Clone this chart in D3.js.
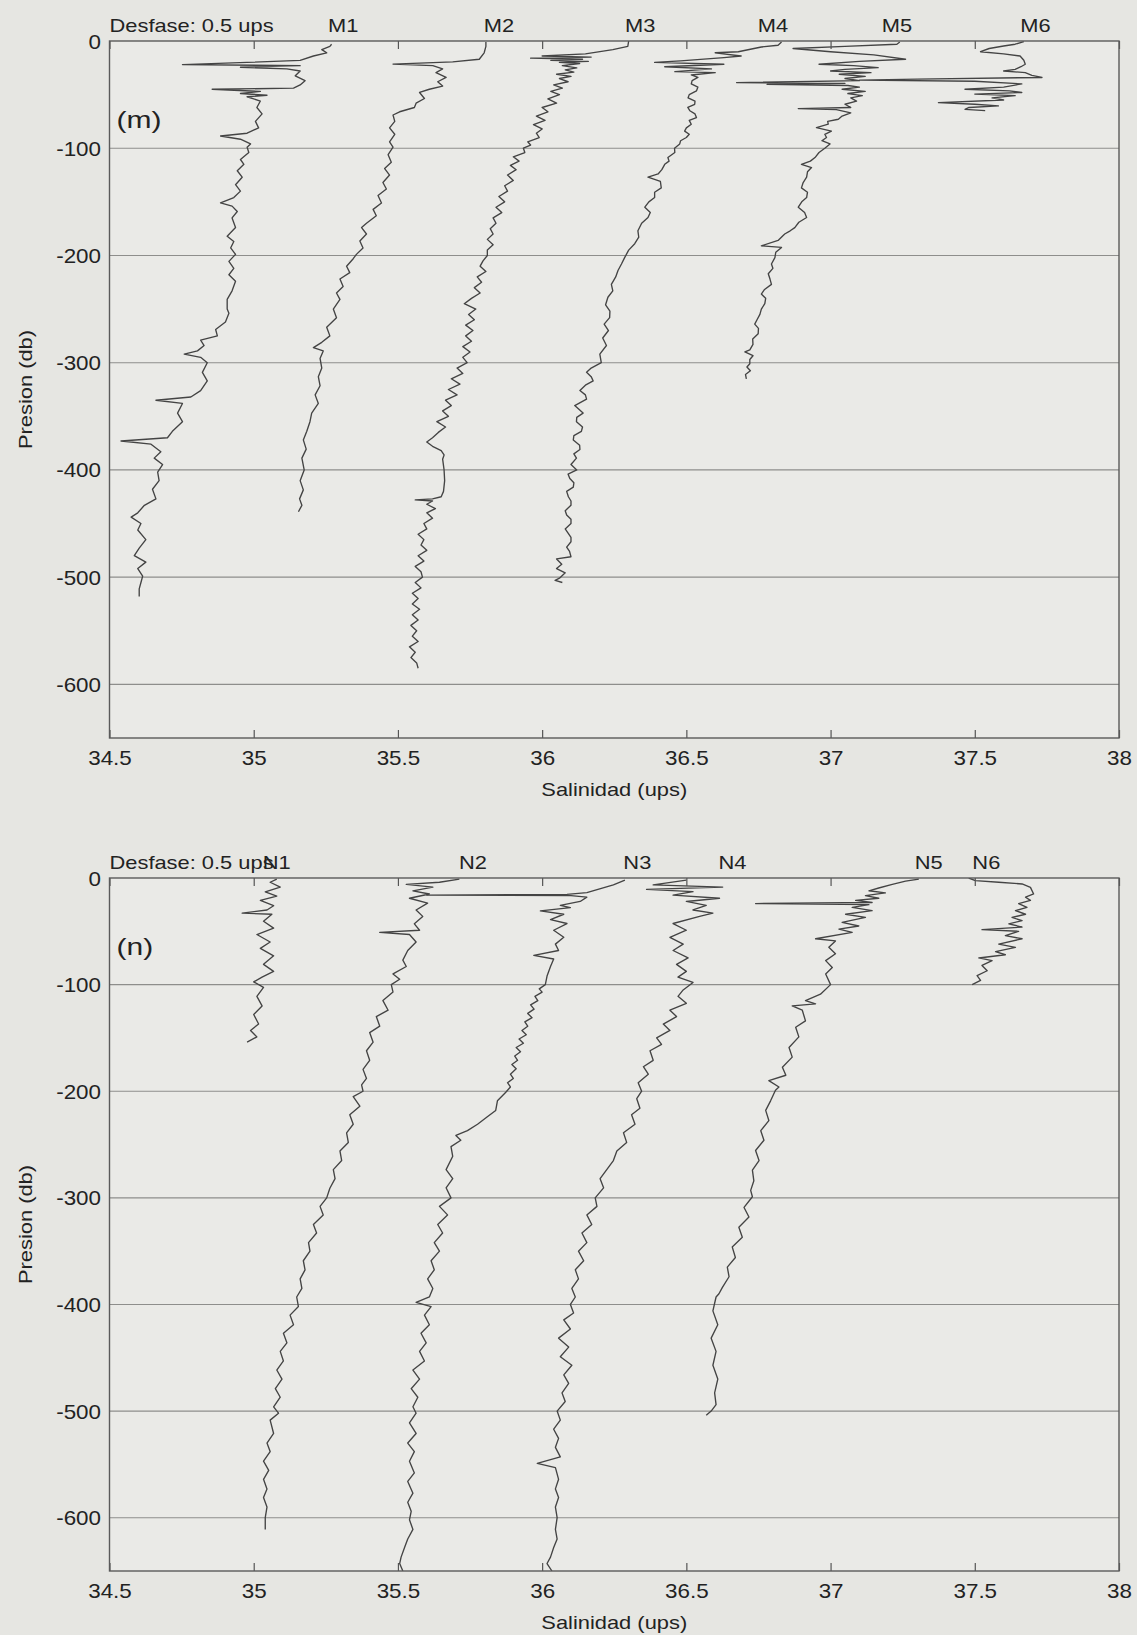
<!DOCTYPE html>
<html>
<head>
<meta charset="utf-8">
<script src="https://cdn.jsdelivr.net/npm/d3@7"></script>
<style>
  body { margin: 0; background: #e6e6e2; }
  svg { display: block; }
  text { font-family: "Liberation Sans", Arial, sans-serif; fill: #222; }
</style>
</head>
<body>
<svg id="chart"></svg>
<script>
// axis values
const xTicks = [34.5, 35, 35.5, 36, 36.5, 37, 37.5, 38];
const yTicks = [0, -100, -200, -300, -400, -500, -600];
const yGrid = [-100, -200, -300, -400, -500, -600];
const offsetNote = "Desfase: 0.5 ups";

// profile names and where each name sits (salinidad)
const mNames = ["M1", "M2", "M3", "M4", "M5", "M6"];
const mLabelAt = [35.31, 35.85, 36.34, 36.80, 37.23, 37.71];
const nNames = ["N1", "N2", "N3", "N4", "N5", "N6"];
const nLabelAt = [35.08, 35.76, 36.33, 36.66, 37.34, 37.54];

// profiles: [presion, salinidad]
const M1 = [[-3,35.27],[-5,35.264],[-8,35.236],[-11,35.253],[-14,35.207],[-18,35.161],[-20,34.977],[-22,34.753],[-23,35.161],[-24.5,34.954],[-26,35.115],[-28,35.161],[-32.5,35.144],[-37,35.178],[-41,35.161],[-44,35.138],[-45,34.856],[-47,35.023],[-49,34.954],[-50.6,35.046],[-52,34.977],[-56,35.023],[-62,35.011],[-68,35.029],[-75,35.006],[-81,35.017],[-86,34.977],[-88.6,34.885],[-91.6,34.954],[-96,34.989],[-99,34.977],[-104,34.983],[-110.5,34.954],[-115,34.966],[-121,34.943],[-127,34.96],[-134,34.937],[-140,34.954],[-146,34.931],[-151,34.885],[-154,34.925],[-159,34.943],[-165,34.925],[-174,34.937],[-182,34.908],[-187,34.931],[-193,34.92],[-199,34.937],[-205.5,34.914],[-212,34.931],[-218,34.914],[-224,34.937],[-233,34.925],[-241,34.908],[-250,34.908],[-254,34.914],[-262,34.902],[-269,34.868],[-275,34.874],[-279,34.816],[-284,34.828],[-289,34.805],[-292,34.759],[-295,34.816],[-300,34.839],[-309,34.822],[-317,34.839],[-326,34.816],[-332,34.782],[-335,34.661],[-338,34.753],[-347,34.736],[-355,34.753],[-364,34.718],[-370,34.701],[-373,34.54],[-376,34.644],[-383,34.678],[-389,34.655],[-395,34.684],[-402,34.667],[-410,34.672],[-418,34.649],[-427,34.661],[-433,34.621],[-440,34.598],[-444,34.575],[-450,34.609],[-456,34.598],[-465,34.626],[-473,34.603],[-480,34.586],[-486,34.626],[-492,34.598],[-499,34.615],[-505,34.609],[-511,34.603],[-518,34.603]];
const M2 = [[-1,35.805],[-5,35.805],[-11,35.799],[-17,35.782],[-19.4,35.69],[-21.5,35.483],[-23,35.621],[-26,35.655],[-29.5,35.632],[-34,35.667],[-38,35.638],[-42,35.655],[-45,35.609],[-48,35.575],[-53.6,35.592],[-58,35.563],[-62,35.557],[-66,35.506],[-69,35.483],[-75,35.489],[-81,35.471],[-87,35.489],[-94,35.471],[-99,35.483],[-106,35.466],[-113,35.477],[-119,35.454],[-125,35.471],[-132,35.448],[-138,35.46],[-144,35.431],[-151,35.443],[-157,35.414],[-163,35.425],[-170,35.391],[-174,35.374],[-180,35.391],[-186.5,35.368],[-193,35.379],[-199,35.356],[-203,35.345],[-210,35.322],[-216,35.333],[-222,35.299],[-229,35.31],[-235,35.287],[-241,35.299],[-250,35.276],[-258,35.287],[-267,35.253],[-275,35.264],[-281,35.236],[-286,35.207],[-289,35.241],[-296,35.23],[-305,35.236],[-313,35.224],[-321.5,35.23],[-330,35.213],[-338,35.224],[-347,35.201],[-355,35.195],[-364,35.184],[-372,35.172],[-380.6,35.182],[-389,35.167],[-400,35.175],[-410,35.161],[-418.6,35.172],[-427,35.159],[-433,35.167],[-439,35.155]];
const M3 = [[0,36.30],[-5,36.297],[-8,36.245],[-12,36.15],[-14,36.0],[-15,36.17],[-16,35.96],[-17,36.14],[-18,36.03],[-19,36.16],[-20,36.06],[-21,36.13],[-23,36.07],[-25,36.12],[-27,36.08],[-29,36.11],[-31,36.05],[-33,36.1],[-35,36.06],[-38,36.09],[-41,36.04],[-44,36.07],[-47,36.03],[-50,36.06],[-54,36.02],[-58,36.05],[-62,36.0],[-66,36.02],[-70,35.98],[-74,36.01],[-78,35.97],[-82,36.0],[-86,35.98],[-90,35.99],[-94,35.95],[-97,35.96],[-100,35.935],[-104,35.94],[-108,35.9],[-112,35.92],[-116,35.89],[-120,35.91],[-125,35.88],[-130,35.9],[-135,35.87],[-140,35.88],[-145,35.85],[-150,35.87],[-155,35.84],[-160,35.86],[-165,35.83],[-170,35.84],[-175,35.82],[-180,35.83],[-185,35.81],[-190,35.83],[-195,35.81],[-200,35.81],[-205,35.795],[-210,35.785],[-215,35.805],[-220,35.775],[-225,35.79],[-230,35.765],[-235,35.785],[-240,35.755],[-245,35.73],[-250,35.77],[-255,35.745],[-260,35.765],[-265,35.735],[-270,35.76],[-275,35.735],[-280,35.755],[-285,35.725],[-290,35.75],[-295,35.725],[-300,35.74],[-305,35.705],[-310,35.725],[-315,35.685],[-320,35.715],[-325,35.675],[-330,35.705],[-335,35.665],[-340,35.685],[-345,35.655],[-350,35.675],[-355,35.635],[-360,35.665],[-365,35.64],[-370,35.62],[-374,35.6],[-378,35.62],[-382,35.65],[-386,35.66],[-390,35.655],[-400,35.66],[-410,35.662],[-420,35.658],[-425,35.65],[-427,35.62],[-428,35.56],[-429,35.62],[-432,35.6],[-436,35.63],[-440,35.6],[-445,35.62],[-450,35.59],[-455,35.6],[-460,35.57],[-465,35.59],[-470,35.58],[-475,35.6],[-480,35.57],[-485,35.59],[-490,35.56],[-495,35.58],[-500,35.585],[-505,35.56],[-510,35.58],[-515,35.55],[-520,35.57],[-525,35.55],[-530,35.575],[-535,35.55],[-540,35.57],[-545,35.545],[-550,35.565],[-555,35.55],[-560,35.57],[-565,35.54],[-570,35.56],[-575,35.545],[-580,35.565],[-585,35.57]];
const M4 = [[-1,36.83],[-4,36.818],[-5.6,36.76],[-10,36.68],[-11,36.6],[-14,36.69],[-15.5,36.63],[-18.6,36.48],[-20,36.39],[-21.7,36.63],[-24,36.425],[-26,36.587],[-28.6,36.46],[-29.5,36.6],[-31.7,36.517],[-34,36.54],[-37,36.52],[-40,36.517],[-43,36.54],[-46.6,36.535],[-50,36.51],[-53,36.506],[-56,36.53],[-59,36.529],[-62,36.505],[-65,36.512],[-68,36.53],[-71.4,36.535],[-74,36.51],[-77.6,36.517],[-81,36.5],[-84,36.494],[-87,36.51],[-90,36.5],[-93,36.48],[-96,36.477],[-100,36.459],[-104,36.46],[-108.7,36.436],[-112,36.44],[-115,36.425],[-120,36.415],[-124,36.402],[-127,36.367],[-131,36.41],[-137,36.413],[-141,36.39],[-146,36.39],[-150,36.37],[-155,36.356],[-160,36.375],[-164.6,36.367],[-170,36.345],[-177,36.332],[-183,36.335],[-189,36.321],[-195,36.3],[-202,36.286],[-208,36.275],[-214,36.263],[-220,36.255],[-227,36.24],[-233,36.245],[-239,36.228],[-246,36.22],[-252,36.235],[-258,36.234],[-264,36.215],[-270,36.23],[-277,36.21],[-284,36.223],[-292,36.2],[-300,36.205],[-305,36.17],[-309,36.154],[-313,36.17],[-317,36.177],[-321,36.15],[-326,36.131],[-330,36.15],[-334,36.154],[-340,36.113],[-347,36.142],[-351,36.12],[-355,36.119],[-360,36.14],[-364,36.136],[-368,36.11],[-372,36.108],[-377,36.13],[-381,36.131],[-385,36.11],[-389,36.119],[-395,36.1],[-400,36.12],[-404,36.09],[-408,36.096],[-412,36.11],[-416,36.108],[-420,36.085],[-425,36.091],[-429,36.1],[-433,36.1],[-438,36.08],[-442,36.085],[-446,36.1],[-450,36.1],[-455,36.08],[-459,36.09],[-463,36.1],[-467,36.1],[-472,36.085],[-476,36.095],[-481,36.1],[-483,36.05],[-488,36.068],[-492,36.05],[-496,36.08],[-501,36.06],[-503,36.045],[-505,36.07]];
const M5 = [[-1,37.24],[-3,37.23],[-5,37.05],[-7,36.87],[-10,37.0],[-13,37.15],[-17,37.26],[-19,37.1],[-21.7,36.96],[-23,37.08],[-24.8,37.165],[-26.5,37.05],[-28,37.0],[-29.5,37.14],[-31,37.03],[-33,37.12],[-35,37.05],[-37,37.1],[-38.8,36.674],[-39.5,37.05],[-40.5,36.78],[-41.5,37.06],[-43,37.1],[-45,37.04],[-47,37.12],[-49,37.06],[-51,37.11],[-53,37.07],[-56,37.09],[-59,37.05],[-62,37.07],[-63,36.888],[-64,37.02],[-67,37.07],[-70,37.04],[-73,37.027],[-75,36.99],[-77.6,36.992],[-80.7,36.951],[-84,37.003],[-87,36.98],[-90,36.986],[-93,36.97],[-96,36.998],[-100,36.98],[-104,36.96],[-108.7,36.946],[-112,36.93],[-115,36.899],[-118,36.934],[-122,36.92],[-127,36.917],[-132,36.905],[-137,36.899],[-141,36.92],[-146,36.917],[-150,36.9],[-155,36.888],[-160,36.91],[-164.6,36.917],[-169,36.89],[-174,36.876],[-177,36.86],[-180,36.841],[-186,36.818],[-191,36.76],[-192.5,36.83],[-197,36.81],[-202,36.807],[-208,36.795],[-212,36.8],[-217,36.784],[-222,36.79],[-227,36.795],[-232,36.77],[-236,36.76],[-240,36.775],[-245,36.772],[-250,36.76],[-255,36.755],[-260,36.745],[-264,36.737],[-268,36.75],[-273,36.749],[-278,36.73],[-283,36.731],[-288,36.72],[-290,36.703],[-293.5,36.731],[-297,36.72],[-301,36.72],[-304,36.71],[-307.5,36.722],[-311,36.705],[-315,36.708]];
const M6 = [[-0.6,37.67],[-3,37.64],[-4.7,37.6],[-7,37.55],[-10,37.52],[-12,37.6],[-14,37.657],[-18,37.67],[-21.7,37.675],[-24,37.66],[-26.4,37.64],[-28,37.6],[-29.5,37.675],[-32,37.698],[-34,37.733],[-35.5,37.3],[-36.5,37.1],[-37.5,37.5],[-40,37.663],[-43,37.6],[-45,37.466],[-46.5,37.62],[-48,37.663],[-49.5,37.5],[-51,37.64],[-53,37.56],[-55,37.6],[-57.5,37.374],[-59,37.5],[-60.5,37.582],[-62,37.48],[-63.7,37.466],[-65,37.536]];

const N1 = [[-1,35.08],[-4,35.057],[-8.5,35.092],[-13,35.04],[-17,35.08],[-21,35.023],[-26,35.069],[-30,35.046],[-33,34.96],[-34,35.063],[-40.6,35.034],[-47,35.069],[-53,35.011],[-60,35.057],[-66,35.023],[-73,35.069],[-81,35.034],[-87.6,35.069],[-93,35.029],[-97.4,35.0],[-102.6,35.034],[-111,35.011],[-120,35.029],[-128,35.0],[-137,35.017],[-143,34.989],[-149,35.011],[-154,34.977]];
const N2 = [[-1,35.713],[-4,35.644],[-6,35.529],[-8.5,35.621],[-12,35.552],[-15,35.609],[-19,35.54],[-23.5,35.603],[-30,35.563],[-36,35.586],[-43,35.557],[-49,35.575],[-51,35.437],[-53,35.54],[-60,35.563],[-68,35.534],[-77,35.517],[-83,35.529],[-90,35.483],[-95,35.506],[-100,35.477],[-107,35.483],[-115,35.448],[-124,35.466],[-130,35.425],[-139,35.437],[-145,35.402],[-154,35.414],[-162,35.391],[-171,35.402],[-179.5,35.379],[-188,35.391],[-194,35.374],[-200,35.379],[-205,35.345],[-214,35.368],[-222,35.333],[-231,35.345],[-239,35.322],[-248,35.328],[-256,35.299],[-265,35.305],[-273.5,35.276],[-282,35.282],[-291,35.264],[-300,35.253],[-308,35.23],[-316,35.241],[-325,35.207],[-333,35.218],[-342,35.19],[-350,35.195],[-359,35.172],[-367.5,35.178],[-376,35.161],[-385,35.167],[-393,35.149],[-402,35.155],[-410,35.126],[-419,35.138],[-427,35.103],[-436,35.115],[-444,35.092],[-453,35.103],[-461.5,35.08],[-470,35.098],[-479,35.075],[-487,35.092],[-496,35.069],[-502,35.086],[-508.5,35.057],[-521,35.069],[-530,35.046],[-538,35.057],[-547,35.034],[-555.6,35.052],[-564,35.034],[-573,35.046],[-581,35.034],[-590,35.046],[-600,35.04],[-611,35.04]];
const N3 = [[-2,36.287],[-6.4,36.247],[-13.7,36.155],[-15.4,36.086],[-16,35.6],[-16.6,36.1],[-18,36.155],[-22,36.132],[-25.6,36.063],[-27.8,36.098],[-30.8,35.994],[-34,36.075],[-39,36.029],[-42.7,36.086],[-49,36.04],[-55.6,36.075],[-62,36.046],[-68,36.057],[-72.6,35.971],[-76,36.04],[-83,36.029],[-92,36.017],[-100,36.011],[-104,35.99],[-107,36.0],[-111,35.975],[-115,35.985],[-119,35.96],[-123,35.972],[-127,35.95],[-131,35.965],[-135,35.94],[-139,35.95],[-143,35.93],[-147,35.945],[-151,35.92],[-155,35.935],[-159,35.91],[-163,35.925],[-167,35.905],[-171,35.915],[-175,35.895],[-179,35.91],[-184,35.89],[-188,35.9],[-192,35.88],[-196,35.89],[-201,35.874],[-209,35.845],[-218,35.839],[-224,35.81],[-231,35.776],[-237,35.741],[-241.5,35.701],[-246,35.718],[-252,35.684],[-261,35.69],[-273.5,35.667],[-282,35.69],[-290.6,35.667],[-300,35.684],[-308,35.644],[-316,35.672],[-325,35.638],[-333,35.655],[-342,35.626],[-350,35.644],[-359,35.615],[-367.5,35.626],[-376,35.603],[-385,35.621],[-393,35.609],[-398,35.563],[-402,35.615],[-410,35.592],[-419,35.609],[-427,35.58],[-436,35.598],[-444,35.575],[-453,35.592],[-461.5,35.552],[-470,35.575],[-479,35.546],[-487,35.569],[-496,35.552],[-502,35.563],[-511,35.54],[-521,35.563],[-530,35.534],[-538,35.557],[-547,35.54],[-558,35.557],[-566,35.534],[-577,35.552],[-585.5,35.534],[-594,35.546],[-602,35.54],[-611,35.552],[-620,35.534],[-628,35.523],[-637,35.511],[-643,35.506],[-650,35.517]];
const N4 = [[-2,36.5],[-6.4,36.385],[-8.5,36.626],[-10.7,36.362],[-12.8,36.523],[-16,36.454],[-19,36.615],[-22,36.5],[-25.6,36.569],[-30,36.523],[-33,36.592],[-36,36.546],[-42.7,36.454],[-49,36.5],[-55.6,36.443],[-62,36.489],[-68,36.454],[-75,36.506],[-81,36.466],[-87.6,36.5],[-93,36.471],[-98,36.523],[-105,36.489],[-111,36.471],[-117.5,36.5],[-124,36.443],[-130,36.466],[-137,36.42],[-143,36.443],[-150,36.397],[-156,36.414],[-162,36.374],[-171,36.385],[-177,36.351],[-184,36.368],[-192,36.333],[-200,36.345],[-207,36.328],[-216,36.339],[-222,36.31],[-231,36.322],[-239,36.282],[-248,36.293],[-256,36.259],[-265,36.247],[-273.5,36.224],[-282,36.201],[-290.6,36.213],[-300,36.184],[-308,36.19],[-316,36.155],[-325,36.172],[-333,36.138],[-342,36.155],[-350,36.126],[-359,36.144],[-367.5,36.115],[-376,36.126],[-385,36.103],[-393,36.115],[-400,36.098],[-408,36.109],[-414.5,36.075],[-423,36.098],[-431.6,36.057],[-440,36.092],[-449,36.063],[-457,36.103],[-466,36.075],[-474,36.092],[-483,36.069],[-491,36.08],[-500,36.052],[-508.5,36.063],[-517,36.04],[-525.6,36.057],[-534,36.046],[-543,36.063],[-549,35.983],[-553,36.046],[-564,36.057],[-573,36.046],[-581,36.057],[-590,36.046],[-600,36.052],[-611,36.046],[-620,36.052],[-628,36.04],[-637,36.029],[-643,36.017],[-650,36.034]];
const N5 = [[-1,37.306],[-3,37.26],[-6,37.214],[-9.4,37.167],[-12,37.133],[-14,37.19],[-16.6,37.121],[-19,37.167],[-21,37.087],[-23,37.144],[-24,36.74],[-25,37.133],[-27.5,37.075],[-30.6,37.144],[-34,37.052],[-37,37.121],[-41.6,37.04],[-45,37.098],[-48,37.029],[-51,37.075],[-57,36.948],[-59,37.017],[-65,36.994],[-71,37.017],[-77.5,36.983],[-84,37.006],[-90,36.983],[-100,37.0],[-109,36.965],[-115,36.913],[-118,36.948],[-120,36.867],[-124,36.902],[-134,36.913],[-140,36.879],[-149,36.89],[-159,36.856],[-168,36.867],[-177.5,36.833],[-185,36.845],[-190,36.786],[-196,36.821],[-199,36.809],[-209,36.792],[-218,36.775],[-227.5,36.786],[-237,36.758],[-246,36.769],[-255.6,36.74],[-265,36.752],[-274,36.729],[-284,36.734],[-293,36.723],[-299,36.729],[-309,36.7],[-318,36.717],[-327.5,36.682],[-337,36.694],[-346,36.659],[-356,36.67],[-365,36.642],[-374,36.648],[-384,36.625],[-390,36.613],[-393,36.603],[-406,36.592],[-419,36.609],[-431.6,36.586],[-444,36.603],[-457,36.592],[-470,36.609],[-483,36.598],[-494,36.603],[-500,36.586],[-504,36.569]];
const N6 = [[0,37.479],[-2.5,37.502],[-4,37.583],[-5.6,37.664],[-8.8,37.693],[-15,37.704],[-18,37.676],[-21,37.693],[-24,37.652],[-27.5,37.681],[-30.6,37.641],[-34,37.676],[-37,37.629],[-40,37.664],[-43,37.618],[-46,37.664],[-48.4,37.525],[-50,37.652],[-54,37.606],[-57,37.664],[-62,37.583],[-65,37.641],[-69,37.572],[-72,37.606],[-75,37.514],[-77.5,37.56],[-82,37.525],[-87,37.543],[-91.6,37.508],[-96,37.52],[-100,37.491]];

const panels = [
  {tag: "(m)", names: mNames, labelAt: mLabelAt, series: [M1, M2, M3, M4, M5, M6], top: 41, bottom: 738, tagY: 119},
  {tag: "(n)", names: nNames, labelAt: nLabelAt, series: [N1, N2, N3, N4, N5, N6], top: 878, bottom: 1571, tagY: 946}
];

const width = 1137, height = 1635;
const left = 109.5, right = 1119;
const SX = 1.25;     // the scanned lettering is wide
const tickSX = 1.12;

const svg = d3.select("#chart").attr("width", width).attr("height", height);

const x = d3.scaleLinear().domain([34.5, 38]).range([left, right]);

panels.forEach((p, i) => {
  const y = d3.scaleLinear().domain([-650, 0]).range([p.bottom, p.top]);
  const g = svg.append("g");

  g.append("rect")
    .attr("x", left).attr("y", p.top)
    .attr("width", right - left).attr("height", p.bottom - p.top)
    .attr("fill", "#eaeae7");

  g.append("clipPath").attr("id", "clip" + i)
    .append("rect")
    .attr("x", left).attr("y", p.top)
    .attr("width", right - left).attr("height", p.bottom - p.top);

  // grid
  g.selectAll("line.grid")
    .data(yGrid)
    .enter().append("line")
      .attr("class", "grid")
      .attr("x1", left).attr("x2", right)
      .attr("y1", d => y(d)).attr("y2", d => y(d))
      .attr("stroke", "#8e8e8c").attr("stroke-width", 1.1);

  // profiles
  const line = d3.line().x(d => x(d[1])).y(d => y(d[0]));
  g.append("g").attr("clip-path", `url(#clip${i})`)
    .selectAll("path")
    .data(p.series)
    .enter().append("path")
      .attr("d", line)
      .attr("fill", "none")
      .attr("stroke", "#444")
      .attr("stroke-width", 1.35)
      .attr("stroke-linejoin", "round");

  // axes
  const bottomAxis = g.append("g")
    .attr("transform", `translate(0,${p.bottom})`)
    .call(d3.axisBottom(x).tickValues(xTicks).tickSize(-8).tickFormat(d => String(d)));
  bottomAxis.selectAll("text")
    .attr("y", 27).attr("dy", null)
    .attr("transform", `scale(${tickSX},1)`)
    .style("font-size", "20px");

  g.append("g")
    .attr("transform", `translate(0,${p.top})`)
    .call(d3.axisTop(x).tickValues(xTicks).tickSize(-8).tickFormat(""));

  const leftAxis = g.append("g")
    .attr("transform", `translate(${left},0)`)
    .call(d3.axisLeft(y).tickValues(yTicks).tickSize(0).tickFormat(d => String(d)));
  leftAxis.selectAll("text")
    .attr("x", -8.5 / tickSX).attr("dy", "0.35em")
    .attr("transform", `scale(${tickSX},1)`)
    .style("font-size", "20px");

  g.selectAll(".domain").remove();
  g.selectAll(".tick line").attr("stroke", "#555").attr("stroke-width", 1.2);

  g.append("rect")
    .attr("x", left).attr("y", p.top)
    .attr("width", right - left).attr("height", p.bottom - p.top)
    .attr("fill", "none").attr("stroke", "#5a5a5a").attr("stroke-width", 1.4);

  // texts
  g.append("text")
    .attr("transform", `translate(${left},${p.top - 9}) scale(${SX},1)`)
    .style("font-size", "17.5px")
    .text(offsetNote);

  g.selectAll("text.name")
    .data(p.names)
    .enter().append("text")
      .attr("class", "name")
      .attr("transform", (d, k) => `translate(${x(p.labelAt[k])},${p.top - 9}) scale(${SX},1)`)
      .attr("text-anchor", "middle")
      .style("font-size", "17.5px")
      .text(d => d);

  g.append("text")
    .attr("transform", `translate(${left + 7},${p.tagY + 9}) scale(${SX},1)`)
    .style("font-size", "24px")
    .text(p.tag);

  g.append("text")
    .attr("transform", `translate(${(left + right) / 2},${p.bottom + 57.5}) scale(${SX},1)`)
    .attr("text-anchor", "middle")
    .style("font-size", "17.5px")
    .text("Salinidad (ups)");

  g.append("text")
    .attr("transform", `translate(32,${(p.top + p.bottom) / 2}) rotate(-90) scale(${SX},1)`)
    .attr("text-anchor", "middle")
    .style("font-size", "17.5px")
    .text("Presion (db)");
});
</script>
</body>
</html>
